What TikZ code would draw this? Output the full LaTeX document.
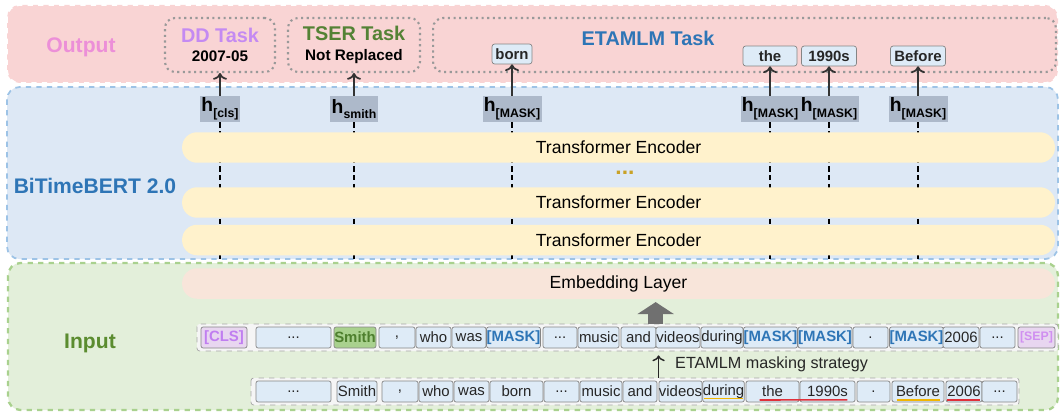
\documentclass[tikz,border=0pt]{standalone}
\usepackage{fontspec}
\setmainfont{Liberation Sans}
\usepackage[HTML]{xcolor}
\usepackage{tikz}
\usetikzlibrary{positioning, arrows, arrows.meta}

\definecolor{outfill}{HTML}{F9D4D4}
\definecolor{bertfill}{HTML}{DDE8F5}
\definecolor{bertline}{HTML}{9DC3E6}
\definecolor{infill}{HTML}{E3EFDA}
\definecolor{inline}{HTML}{A9D18E}
\definecolor{encfill}{HTML}{FFF2CC}
\definecolor{embfill}{HTML}{F8E5DA}
\definecolor{hgray}{HTML}{ADB9CA}
\definecolor{tokfill}{HTML}{DEEBF7}
\definecolor{tokline}{HTML}{858585}
\definecolor{tokfg}{HTML}{262626}
\definecolor{clsfill}{HTML}{E8D6F0}
\definecolor{clsfg}{HTML}{C07EF0}
\definecolor{sepfg}{HTML}{D08FF0}
\definecolor{smithfill}{HTML}{A9D18E}
\definecolor{smithfg}{HTML}{4E7F2E}
\definecolor{maskfg}{HTML}{2E75B6}
\definecolor{outlabel}{HTML}{EC8FD8}
\definecolor{ddpurple}{HTML}{C48AF2}
\definecolor{tsergreen}{HTML}{548235}
\definecolor{inlabel}{HTML}{5B8C2F}
\definecolor{dotgold}{HTML}{C9A227}
\definecolor{arrgray}{HTML}{707070}
\definecolor{ulorange}{HTML}{F2B600}
\definecolor{ulred}{HTML}{E0303A}

\newcommand{\hlab}[1]{\textbf{h}\raisebox{-0.55ex}{\fontsize{7}{8}\selectfont\bfseries #1}}
\newcommand{\tdots}{...}

\begin{document}
\begin{tikzpicture}[x=0.02cm,y=-0.02cm,
  panel/.style={rounded corners=0.25cm,dashed,line width=1pt},
  lbl/.style={font=\fontsize{12}{14}\selectfont\bfseries},
  taskbox/.style={draw=black!40,dotted,line width=1.2pt,rounded corners=0.2cm,inner sep=0pt,align=center,minimum height=1.08cm},
  tasktitle/.style={font=\fontsize{11.3}{13}\selectfont\bfseries},
  outtok/.style={draw=tokline,fill=tokfill,rounded corners=1.5pt,inner sep=0pt,minimum height=0.4cm,text=tokfg,font=\fontsize{8.5}{10}\selectfont\bfseries},
  hbox/.style={fill=hgray,inner sep=0.8pt,minimum height=0.52cm,font=\fontsize{11}{12}\selectfont},
  bar/.style={fill=#1,rounded corners=0.3cm,minimum width=17.46cm,minimum height=0.61cm,font=\fontsize{10}{12}\selectfont},
  stem/.style={dash pattern=on 3pt off 2pt,line width=1pt},
  outarrow/.style={->,line width=1pt,draw=black!80},
  rowbox/.style={draw=black!35,dashed,fill=black!4,rounded corners=1.5pt},
  tok/.style={draw=tokline,fill=tokfill,rounded corners=1.2pt,inner sep=0pt,minimum height=0.42cm,text=tokfg,font=\fontsize{8.5}{10}\selectfont},
  clstok/.style={tok,fill=clsfill,text=clsfg,font=\fontsize{8.5}{10}\selectfont\bfseries},
  septok/.style={tok,fill=clsfill,text=sepfg,font=\fontsize{7}{8}\selectfont\bfseries},
  smithtok/.style={tok,fill=smithfill,text=smithfg,font=\fontsize{8.5}{10}\selectfont\bfseries},
  masktok/.style={tok,text=maskfg,font=\fontsize{8.5}{10}\selectfont\bfseries},
  ul/.style={draw=#1,line width=0.9pt}]
\useasboundingbox (0,0) rectangle (1060,412);

% three panels
\draw[panel,draw=white,fill=outfill] (7,5) rectangle (1058,83);
\draw[panel,draw=bertline,fill=bertfill] (7,87) rectangle (1058,259);
\draw[panel,draw=inline,fill=infill,line width=1.3pt] (8,263) rectangle (1058,410);
\coordinate (bbot) at (0,259);

\node[lbl,text=outlabel] (outlbl) at (81,47) {Output};
\node[lbl,text=maskfg] (bertlbl) at (95,186) {BiTimeBERT 2.0};
\node[lbl,text=inlabel] (inlbl) at (90,343) {Input};

% output tasks
\node[taskbox,minimum width=2.2cm] (dd) at (220,45) {{\color{ddpurple}\fontsize{11.3}{13}\selectfont\bfseries DD Task}\\[-1pt]{\fontsize{8.7}{10}\selectfont\bfseries 2007-05}};
\node[taskbox,minimum width=2.64cm] (tser) at (354,45) {{\color{tsergreen}\fontsize{11.3}{13}\selectfont\bfseries TSER Task}\\[-1pt]{\fontsize{8.7}{10}\selectfont\bfseries Not Replaced}};
\node[taskbox,minimum width=12.46cm] (etabox) at (744.5,45) {};
\node[tasktitle,text=maskfg] (etatitle) at (648,38) {ETAMLM Task};
\node[outtok,minimum width=0.8cm] (born) at (512,54) {born};
\node[outtok,minimum width=1.08cm] (the) at (770,56) {the};
\node[outtok,minimum width=1.1cm] (yr) at (829,56) {1990s};
\node[outtok,minimum width=1.1cm] (before) at (918,56) {Before};

% hidden states
\node[hbox] (hcls) at (220,109) {\hlab{[cls]}};
\node[hbox] (hsmith) at (354,109) {\hlab{smith}};
\node[hbox] (hm1) at (512,109) {\hlab{[MASK]}};
\node[hbox] (hm2) at (770,109) {\hlab{[MASK]}};
\node[hbox] (hm3) at (829,109) {\hlab{[MASK]}};
\node[hbox] (hm4) at (918,109) {\hlab{[MASK]}};

\foreach \n in {hcls,hsmith,hm1,hm2,hm3,hm4}{
\draw[stem] (\n.south) -- (\n.south |- bbot);
}
\foreach \a/\b in {hcls/dd,hsmith/tser,hm1/born,hm2/the,hm3/yr,hm4/before}{
\draw[outarrow] (\a.north) -- (\b.south);
}

% encoder stack
\node[bar=encfill] (enc1) at (618.5,147.5) {Transformer Encoder};
\node[text=dotgold,font=\fontsize{13}{14}\selectfont\bfseries] (dots) at (625,173) {...};
\node[bar=encfill] (enc2) at (618.5,202.5) {Transformer Encoder};
\node[bar=encfill] (enc3) at (618.5,240) {Transformer Encoder};

% input
\node[bar=embfill] (emb) at (618.5,283.5) {Embedding Layer};

\draw[rowbox] (197,324) rectangle (1058,351);
\draw[rowbox] (251,378) rectangle (1019,405);

\foreach \xa/\xb/\lab/\sty [count=\i] in {201/247/[CLS]/clstok,256/331/\tdots/tok,334/376/Smith/smithtok,379/415/{,}/tok,416/451/who/tok,452/486/was/tok,487/540/[MASK]/masktok,543/577/\tdots/tok,578/619/music/tok,621/656/and/tok,656/700/videos/tok,701/743/during/tok,744/797/[MASK]/masktok,798/852/[MASK]/masktok,853/888/./tok,890/943/[MASK]/masktok,943/979/2006/tok,980/1015/\tdots/tok,1018/1055/[SEP]/septok}{
\node[\sty,minimum width={(\xb-\xa)*0.02cm}] (a\i) at ({(\xa+\xb)/2},337.5) {\lab};
}
\foreach \xa/\xb/\lab [count=\i] in {256/331/\tdots,337/377/Smith,382/418/{,},419/453/who,454/489/was,490/543/born,544/579/\tdots,580/622/music,623/657/and,659/702/videos,703/744/during,746/799/the,800/855/1990s,857/890/.,892/944/Before,946/982/2006,982/1017/\tdots}{
\node[tok,minimum width={(\xb-\xa)*0.02cm}] (b\i) at ({(\xa+\xb)/2},391.5) {\lab};
}

% underlined time words
\draw[ul=ulorange] ([xshift=0.04cm,yshift=-1.8pt]b11.base west) -- ([xshift=-0.04cm,yshift=-1.8pt]b11.base east);
\draw[ul=ulred] ([xshift=0.28cm,yshift=-1.8pt]b12.base west) -- ([xshift=-0.16cm,yshift=-1.8pt]b13.base east);
\draw[ul=ulorange] ([xshift=0.1cm,yshift=-1.8pt]b15.base west) -- ([xshift=-0.08cm,yshift=-1.8pt]b15.base east);
\draw[ul=ulred] ([xshift=0.02cm,yshift=-1.8pt]b16.base west) -- ([xshift=-0.04cm,yshift=-1.8pt]b16.base east);

% masking step and arrow into embedding
\coordinate (mk) at (b10.north west |- a11.south);
\draw[->,line width=0.8pt,tokfg] ([yshift=0.06cm]b10.north west) -- ([yshift=-0.14cm]mk);
\node[anchor=west,font=\fontsize{9.2}{11}\selectfont,text=tokfg] (mklbl) at (669,364) {ETAMLM masking strategy};
\draw[-{Triangle[width=0.72cm,length=0.24cm]},line width=0.3cm,arrgray,shorten >=0.06cm] ([yshift=0.06cm]a11.north west) -- (a11.north west |- emb.south);
\end{tikzpicture}
\end{document}
